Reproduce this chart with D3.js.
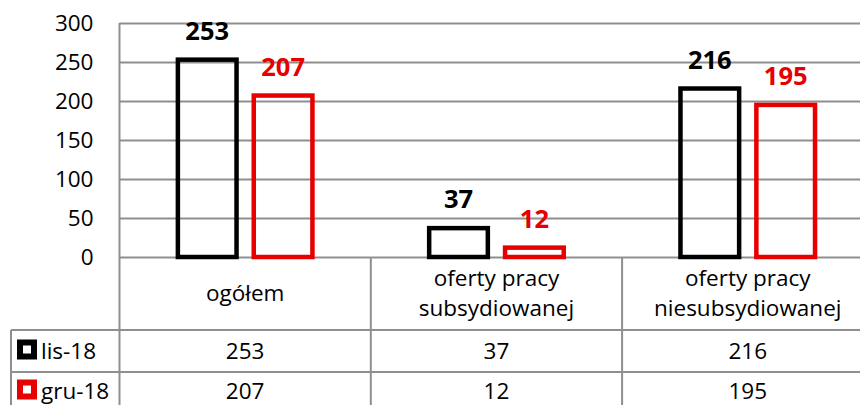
<!DOCTYPE html>
<html>
<head>
<meta charset="utf-8">
<title>Oferty pracy</title>
<script src="https://d3js.org/d3.v7.min.js"></script>
<style>
    body { margin: 0; background: #fff; }
    svg { display: block; font-family: "Open Sans", sans-serif; }
</style>
</head>
<body>
<svg id="chart" width="860" height="405"></svg>
<script>
    // data
    const categories = ['ogółem', 'oferty pracy subsydiowanej', 'oferty pracy niesubsydiowanej'];
    const categoryLines = [['ogółem'], ['oferty pracy', 'subsydiowanej'], ['oferty pracy', 'niesubsydiowanej']];
    const seriesNames = ['lis-18', 'gru-18'];
    const seriesColors = ['#000000', '#e60000'];
    const lis18 = [253, 37, 216];
    const gru18 = [207, 12, 195];
    const seriesValues = [lis18, gru18];
    const yTicks = [0, 50, 100, 150, 200, 250, 300];

    const W = 860, H = 405;
    const plotLeft = 119.5, plotTop = 23, plotBottom = 257;
    const catWidth = 251.3;
    const headerBottom = 330, row1Bottom = 372, row2Bottom = 410;
    const tableLeft = 11;
    const gridColor = '#8f8f8f';
    const fontFam = '"Open Sans", sans-serif';

    const svg = d3.select('#chart');

    const x0 = d3.scaleBand()
        .domain(categories)
        .range([plotLeft, plotLeft + catWidth * categories.length]);

    const x1 = d3.scaleBand()
        .domain(seriesNames)
        .range([catWidth * 0.198, catWidth * 0.802])
        .paddingInner(0.227)
        .paddingOuter(0.1135);

    const y = d3.scaleLinear().domain([0, 300]).range([plotBottom, plotTop]);

    // y axis with gridlines
    const yAxis = svg.append('g')
        .attr('transform', `translate(${plotLeft},0)`)
        .call(d3.axisLeft(y).tickValues(yTicks).tickSizeInner(-(W - plotLeft)).tickSizeOuter(0).tickPadding(26));
    yAxis.select('.domain').remove();
    yAxis.selectAll('.tick line').attr('stroke', gridColor).attr('stroke-width', 2);
    yAxis.selectAll('.tick text')
        .attr('fill', '#000')
        .attr('font-size', '22.5px')
        .attr('font-family', fontFam);

    // table lines
    const lines = svg.append('g').attr('stroke', gridColor).attr('stroke-width', 2);
    // vertical axis line through table
    lines.append('line').attr('x1', plotLeft).attr('x2', plotLeft).attr('y1', plotTop).attr('y2', H);
    // category separators
    categories.forEach(c => {
        const xe = x0(c) + x0.bandwidth();
        lines.append('line').attr('x1', xe).attr('x2', xe).attr('y1', plotBottom).attr('y2', H);
    });
    // row lines
    [headerBottom, row1Bottom].forEach(yy => {
        lines.append('line').attr('x1', tableLeft).attr('x2', W).attr('y1', yy).attr('y2', yy);
    });
    lines.append('line').attr('x1', tableLeft).attr('x2', tableLeft).attr('y1', headerBottom).attr('y2', H);

    // bars
    const groups = svg.append('g').selectAll('g')
        .data(categories)
        .join('g')
        .attr('transform', d => `translate(${x0(d)},0)`);

    groups.each(function(cat, ci) {
        const g = d3.select(this);
        seriesNames.forEach((s, si) => {
            const v = seriesValues[si][ci];
            g.append('rect')
                .attr('x', x1(s))
                .attr('y', y(v))
                .attr('width', x1.bandwidth())
                .attr('height', y(0) - y(v))
                .attr('fill', 'none')
                .attr('stroke', seriesColors[si])
                .attr('stroke-width', 4.5);
            g.append('text')
                .attr('x', x1(s) + x1.bandwidth() / 2)
                .attr('y', y(v) - 20)
                .attr('text-anchor', 'middle')
                .attr('font-size', '25.5px')
                .attr('font-weight', 'bold')
                .attr('fill', seriesColors[si])
                .text(v);
        });
    });

    // category labels in table header
    categories.forEach((c, ci) => {
        const cx = x0(c) + x0.bandwidth() / 2;
        const ls = categoryLines[ci];
        const mid = (plotBottom + headerBottom) / 2;
        ls.forEach((t, li) => {
            svg.append('text')
                .attr('x', cx)
                .attr('y', mid + (li - (ls.length - 1) / 2) * 30)
                .attr('dy', '0.35em')
                .attr('text-anchor', 'middle')
                .attr('font-size', '22.5px')
                .attr('fill', '#000')
                .text(t);
        });
    });

    // data rows
    const rowMids = [(headerBottom + row1Bottom) / 2, (row1Bottom + row2Bottom) / 2];
    seriesNames.forEach((s, si) => {
        const ry = rowMids[si];
        svg.append('rect')
            .attr('x', 20).attr('y', ry - 8.5)
            .attr('width', 14).attr('height', 14)
            .attr('fill', '#fff')
            .attr('stroke', seriesColors[si])
            .attr('stroke-width', 6);
        svg.append('text')
            .attr('x', 41).attr('y', ry)
            .attr('dy', '0.35em')
            .attr('font-size', '22.5px')
            .attr('fill', '#000')
            .text(s);
        categories.forEach((c, ci) => {
            svg.append('text')
                .attr('x', x0(c) + x0.bandwidth() / 2)
                .attr('y', ry)
                .attr('dy', '0.35em')
                .attr('text-anchor', 'middle')
                .attr('font-size', '22.5px')
                .attr('fill', '#000')
                .text(seriesValues[si][ci]);
        });
    });
</script>
</body>
</html>
